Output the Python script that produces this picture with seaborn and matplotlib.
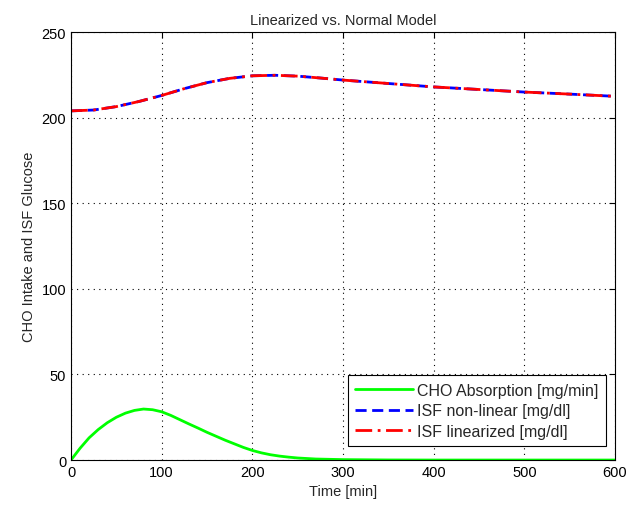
import matplotlib
matplotlib.use("Agg")
import matplotlib.pyplot as plt
import seaborn as sns
import pandas as pd

# Data
t_cho = [0, 10, 20, 30, 40, 50, 60, 70, 80, 90, 100, 110, 120, 130, 140, 150, 160,
         170, 180, 190, 200, 210, 220, 230, 240, 250, 270, 300, 350, 400, 500, 600]
cho = [0, 6.9, 13.0, 17.8, 21.8, 25.0, 27.4, 29.0, 29.8, 29.4, 28.2, 26.1, 23.6,
       21.1, 18.7, 16.2, 13.9, 11.6, 9.5, 7.4, 5.6, 4.2, 3.1, 2.3, 1.7, 1.2, 0.6,
       0.25, 0.05, 0, 0, 0]

t_isf = [0, 25, 50, 75, 100, 125, 150, 175, 200, 225, 250, 275, 300, 350, 400,
         450, 500, 550, 600]
isf_nonlin = [204, 204.5, 206.5, 209.5, 213, 217, 220.5, 223, 224.5, 224.8, 224.3,
              223.2, 222, 220, 218, 216.5, 215, 213.8, 212.5]
isf_lin = [204, 204.5, 206.5, 209.5, 213, 217, 220.5, 223, 224.5, 224.8, 224.3,
           223.2, 222, 220, 218, 216.5, 215, 213.8, 212.5]

xticks = [0, 100, 200, 300, 400, 500, 600]
yticks = [0, 50, 100, 150, 200, 250]

sns.set_style("white")
plt.rcParams['font.family'] = ['Liberation Sans', 'DejaVu Sans']

fig = plt.figure(figsize=(6.42, 5.10), dpi=100)
ax = fig.add_axes([0.1106, 0.096, 0.8474, 0.839])

df_cho = pd.DataFrame({"t": t_cho, "v": cho})
df_nl = pd.DataFrame({"t": t_isf, "v": isf_nonlin})
df_l = pd.DataFrame({"t": t_isf, "v": isf_lin})

sns.lineplot(data=df_cho, x="t", y="v", ax=ax, color="#00ff00", lw=2,
             label="CHO Absorption [mg/min]")
sns.lineplot(data=df_nl, x="t", y="v", ax=ax, color="#0000ff", lw=2,
             linestyle=(0, (4, 2)), label="ISF non-linear [mg/dl]")
sns.lineplot(data=df_l, x="t", y="v", ax=ax, color="#ff0000", lw=2,
             linestyle=(0, (6, 2, 1, 2)), label="ISF linearized [mg/dl]")

ax.set_xlim(0, 600)
ax.set_ylim(0, 250)
ax.set_xticks(xticks)
ax.set_yticks(yticks)
ax.tick_params(direction="in", top=True, right=True, length=4, labelsize=10.5,
               colors="black")
ax.grid(True, linestyle=(0, (1, 4)), color="black", linewidth=0.8)
for s in ax.spines.values():
    s.set_color("black")
    s.set_linewidth(0.8)

ax.set_xlabel("Time [min]", fontsize=10.5)
ax.set_ylabel("CHO Intake and ISF Glucose", fontsize=10.5)
ax.set_title("Linearized vs. Normal Model", fontsize=10.5)

leg = ax.legend(loc="lower right", bbox_to_anchor=(1 - 9 / 544, 14 / 428),
                borderaxespad=0, fontsize=11.5, fancybox=False, framealpha=1,
                edgecolor="black", handlelength=3.6, labelspacing=0.35,
                handletextpad=0.3, borderpad=0.45)
leg.get_frame().set_linewidth(0.8)

fig.savefig("out.png", dpi=100)
